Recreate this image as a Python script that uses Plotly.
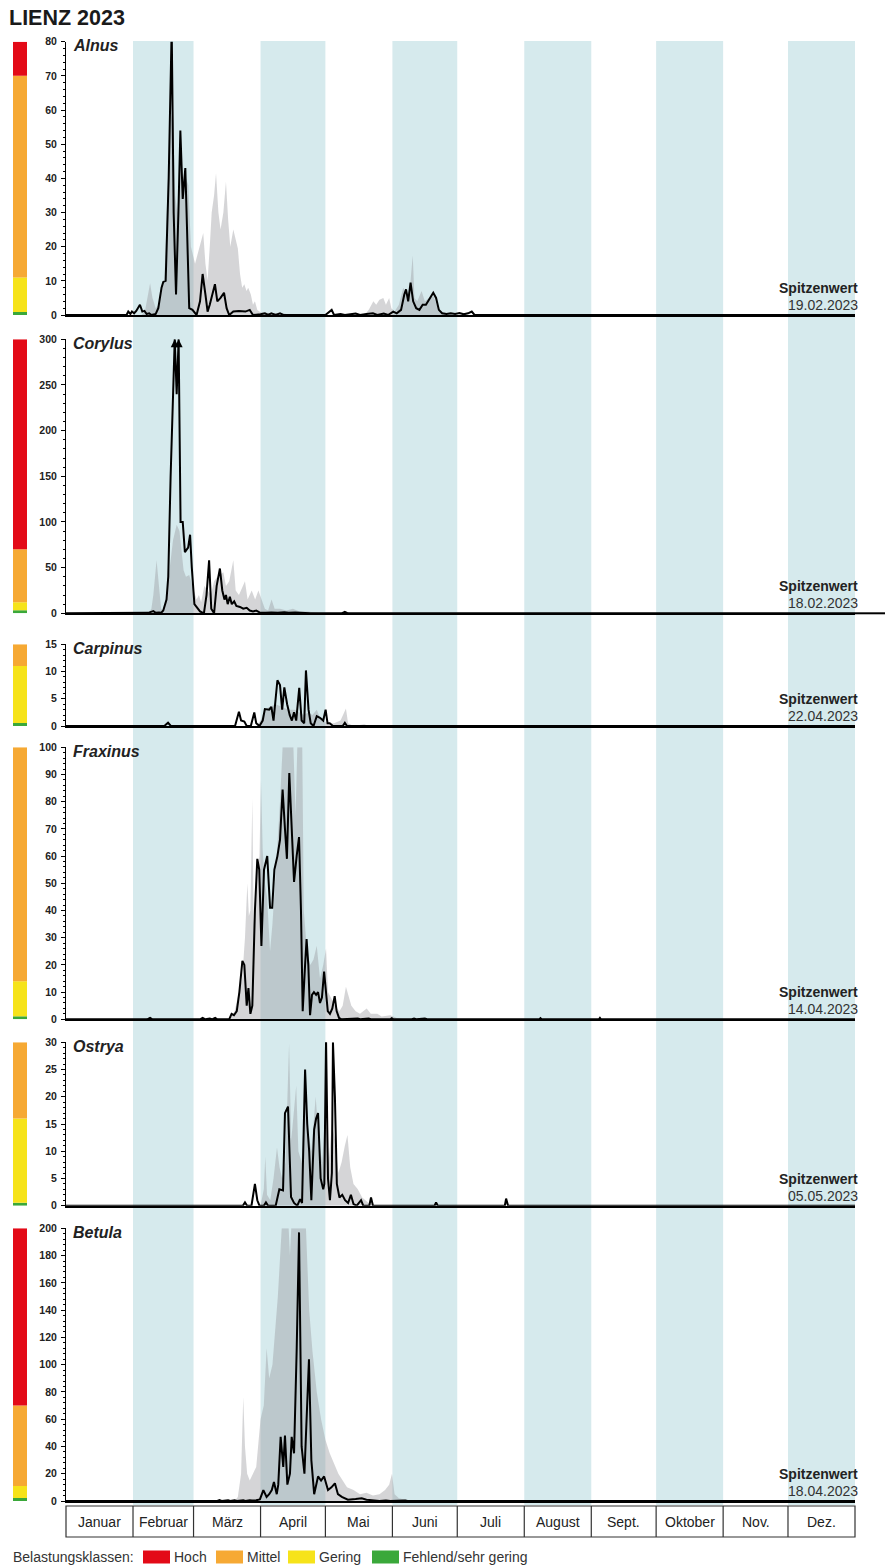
import plotly.graph_objects as go

# ---------------------------------------------------------------- data
title = "LIENZ 2023"
species = ["Alnus", "Corylus", "Carpinus", "Fraxinus", "Ostrya", "Betula"]
y_max = [80, 300, 15, 100, 30, 200]
y_dtick = [10, 50, 5, 10, 5, 20]
y_minor = [2, 10, 1, 2, 1, 4]
peak_dates = ["19.02.2023", "18.02.2023", "22.04.2023", "14.04.2023", "05.05.2023", "18.04.2023"]
# peaks beyond the axis marked with an arrow
cut_arrows = [False, True, False, False, False, False]
# class limits per species: (upper of "Gering", upper of "Mittel", upper of "Hoch" or None)
class_limits = [(11, 70, 80), (12, 70, 300), (11, 15, None), (14, 100, None), (16, 30, None), (11, 70, 200)]

month_labels = ["Januar", "Februar", "März", "April", "Mai", "Juni", "Juli",
                "August", "Sept.", "Oktober", "Nov.", "Dez."]
month_days = [31, 28, 31, 30, 31, 30, 31, 31, 30, 31, 30, 31]

legend_labels = ["Hoch", "Mittel", "Gering", "Fehlend/sehr gering"]

# (day of year, 0 = 1 January ; value)  2023 daily pollen counts (black line)
alnus_2023 = [(0, 0), (28, 0), (28.8, 1), (29.8, 0.3), (30.5, 1), (31.5, 0.5), (32.5, 1.2), (34.2, 3), (35.3, 1),
              (36.3, 1.2), (37.3, 0.3), (38.5, 0.5), (39.5, 0), (41.5, 0.3), (42.7, 2), (44.2, 8), (45, 9.7),
              (46.1, 10), (47.5, 40), (48.9, 84), (49.8, 30), (50.9, 6), (52, 30), (52.9, 54), (54, 34),
              (55.2, 43), (56, 25), (57, 2), (58.5, 1.5), (60.4, 0), (62, 4), (63.2, 12), (64.5, 6), (65.5, 1),
              (66.5, 3), (68.9, 9), (70, 4), (71.5, 5), (73.1, 6.5), (74.3, 2), (75.5, 0), (77.4, 1), (80, 1.2),
              (83, 1), (85, 1.5), (86.5, 0), (90, 0.2), (92, 0.5), (93.5, 0), (95, 0.5), (97, 0), (99, 0.5),
              (100.5, 0), (120, 0), (122.9, 1.5), (124, 0), (127, 0.3), (129, 0), (134, 0.4), (136, 0),
              (139, 0.3), (142, 0.5), (144, 0), (147, 0.4), (149, 0), (151.4, 1), (153, 0.5), (155, 1.5),
              (156.5, 6), (157.3, 7.5), (158.3, 4), (159.4, 9.5), (160.6, 4), (162, 2), (163.5, 1.5), (165, 3),
              (166.5, 3), (168.5, 5), (169.9, 6.5), (171.2, 5), (172.5, 1.5), (174, 0.5), (176, 0.3), (178, 0.5),
              (180, 0.3), (182, 0.6), (184, 0.2), (186, 0.5), (187.7, 1), (189, 0), (365, 0)]
alnus_mean = [(0, 0), (35, 0), (36.5, 1), (38, 6), (38.9, 9.3), (40, 5), (41.5, 2), (43, 3), (44.5, 8), (45.5, 10),
              (47, 40), (48, 55), (49.5, 60), (50.5, 35), (51.5, 30), (53, 45), (54, 35), (55.5, 40), (56.6, 38),
              (57.8, 20), (59.7, 15), (61, 18), (62, 20), (63.5, 24), (64.5, 15), (65.5, 10), (66.5, 20),
              (67.4, 30), (68.5, 35), (69.4, 41.5), (70.5, 30), (71.5, 25), (72.8, 30), (74, 39), (75, 28),
              (76, 20), (77.4, 25), (78.5, 22), (79.5, 19.5), (80.5, 12), (81.5, 8), (82.5, 9), (83.5, 7),
              (84.3, 8), (85.5, 6), (86.5, 3), (87.4, 4), (88.5, 1.5), (90, 0.8), (95, 0.5), (100, 0.6), (104, 0),
              (138, 0), (140, 1.5), (142.2, 4), (143.5, 3), (145, 4.5), (146.8, 5), (148, 3), (149.5, 5),
              (150.5, 2), (152, 1), (154, 3), (156, 8), (157.5, 6), (159, 7), (160.4, 17.5), (161.2, 5),
              (162.5, 4), (164.5, 7), (166, 4), (168, 5), (170, 5.5), (171.5, 3), (173, 1), (176, 0.5), (180, 0),
              (365, 0)]

corylus_2023 = [(0, 0), (36, 0), (38, 0.5), (40.4, 2.5), (41.5, 0.5), (43, 1), (44, 0.5), (45, 3), (46.5, 15),
                (47.3, 40), (48.4, 150), (50.3, 300), (51.2, 240), (52.1, 300), (53, 100), (54, 100), (55, 67),
                (56.5, 72), (57.4, 86), (58.2, 50), (59.4, 10), (62, 2), (63.8, 0), (65, 20), (66.2, 58),
                (67.2, 5), (68.5, 0), (69.7, 30), (71.2, 49), (72.3, 25), (73.3, 15), (74, 20), (74.8, 10),
                (75.8, 18), (76.7, 10), (77.8, 13), (78.8, 8), (80.5, 7), (82, 5), (83.6, 6), (85, 3), (86.5, 2),
                (88, 3), (89.5, 1), (92.5, 0.5), (95, 1), (98, 0.5), (101, 1.2), (103, 0.5), (106, 1), (110, 0.3),
                (113, 0), (127.5, 0), (129, 1.5), (130.5, 0), (365, 0)]
corylus_mean = [(0, 0), (38, 0), (39.5, 5), (40.4, 20), (41.9, 58), (43, 30), (44, 5), (45, 3), (46, 10), (48, 50),
                (49.5, 80), (51.2, 97), (52.5, 90), (54.4, 47), (55.5, 40), (57, 42), (58.5, 30), (60.4, 15),
                (61.5, 20), (62.5, 12), (64, 30), (65.5, 25), (67, 20), (68.5, 35), (70, 40), (72.8, 45),
                (74, 30), (75.5, 35), (77.4, 58), (78.5, 25), (80, 20), (82.8, 35), (84, 15), (85.9, 25),
                (87.5, 15), (89, 25), (90.5, 15), (92, 5), (93.5, 3), (95.1, 15), (96.5, 5), (99, 5), (102, 3),
                (105, 5), (108, 2), (112, 2), (115, 1), (118, 0), (365, 0)]

carpinus_2023 = [(0, 0), (45.5, 0), (47.2, 0.6), (48.5, 0), (78.2, 0), (80, 2.6), (81, 1), (82.5, 0.8), (83.6, 0),
                 (85.5, 0), (87.1, 2.5), (88, 0.5), (89.5, 0), (91, 1), (92, 3.1), (94, 3), (95, 3.5), (96, 1),
                 (97.8, 8.4), (99, 7.5), (100, 3), (101, 7.1), (102.3, 4), (103.5, 2), (104.5, 1), (105.5, 2.5),
                 (106.5, 1), (107.9, 7), (109, 1), (110.2, 0.5), (111, 10.2), (112.2, 3), (113.2, 0.5),
                 (114.5, 0), (116, 1.8), (117.5, 1.5), (119, 1), (120.1, 3), (121, 0.5), (122, 0.5), (123.5, 0),
                 (128, 0), (129, 0.6), (130, 0), (365, 0)]
carpinus_mean = [(0, 0), (88, 0), (90, 1), (92, 3), (94, 3.5), (97, 4), (100, 3.5), (103, 3), (106, 3),
                 (108, 2.5), (110, 2), (112, 2.5), (114, 2), (116, 3), (117.5, 1.5), (119, 1), (121, 0.5),
                 (124, 0.5), (127, 1), (129.5, 3.2), (130.5, 0.5), (133, 0), (138, 0.3), (140, 0), (365, 0)]

fraxinus_2023 = [(0, 0), (37.5, 0), (38.9, 0.5), (40, 0), (62, 0), (63.2, 0.5), (64.5, 0), (66.5, 0.3), (67.5, 0),
                 (69, 0.5), (70, 0), (75.5, 0), (76.6, 2), (77.7, 1.5), (79, 3), (80.2, 10), (81.6, 21.5),
                 (82.5, 20), (83.6, 5), (84.4, 11.5), (85.3, 2), (86.2, 5), (87.4, 40), (88.5, 59), (89.4, 55),
                 (90.4, 27), (91.6, 55), (93.1, 60), (94.4, 41), (95.4, 41), (96.4, 55), (97.8, 60), (99, 66),
                 (100.2, 84.5), (101.3, 70), (102.2, 59), (103.3, 90.5), (104.4, 70), (105.5, 50.5), (106.7, 60),
                 (107.8, 67), (108.7, 40), (109.5, 3), (110.6, 20), (111.3, 29.5), (112.1, 20), (112.9, 1.5),
                 (113.8, 9), (114.7, 10), (115.7, 9), (116.6, 10), (117.5, 6), (118.4, 8), (119.4, 17.5),
                 (120.3, 10), (121.1, 3), (122.1, 2), (123.2, 4), (124.3, 8.5), (125.2, 3), (126.3, 0.5),
                 (127.5, 0), (135, 0.3), (136, 0), (140, 0.3), (141, 0), (150, 0), (150.7, 0.4), (151.5, 0),
                 (160, 0), (161, 0.3), (162, 0), (166, 0.3), (167, 0), (219, 0), (219.5, 0.4), (220, 0),
                 (246.5, 0), (247, 0.5), (247.5, 0), (365, 0)]
fraxinus_mean = [(0, 0), (75, 0), (76.6, 1), (78, 3), (80, 10), (81.5, 15), (82.8, 30), (83.9, 50), (84.6, 38),
                 (85.3, 40), (86.2, 81), (86.8, 35), (87.5, 45), (88.5, 55), (89.5, 60), (90.2, 88), (91, 62),
                 (92, 50), (93, 45), (94.4, 25), (95.5, 35), (96.5, 50), (97.5, 60), (99, 80), (100.2, 100),
                 (105.2, 100), (106.2, 75), (107, 100), (109.3, 100), (110, 40), (111.5, 25), (113, 20),
                 (114.5, 22), (116, 27), (117.5, 15), (119, 20), (120.3, 26), (121.2, 10), (122.5, 8),
                 (124.5, 5), (126.5, 3), (128, 5), (129.5, 12), (130.8, 8), (132, 5), (134, 3), (136, 2),
                 (139.1, 4), (141, 2), (144, 2), (146, 1), (150, 1.5), (153, 0.5), (156, 0), (365, 0)]

ostrya_2023 = [(0, 0), (81.8, 0), (82.8, 0.6), (83.8, 0), (85.8, 0), (87.4, 4), (88.5, 1), (89.5, 0), (91.5, 0),
               (92.5, 0.6), (93.5, 0), (97, 0), (98.7, 3), (100.4, 2.8), (101.3, 17), (102.7, 18.2), (104.1, 1.6),
               (105.5, 0.5), (107, 0), (108.3, 1.2), (109.2, 0.5), (110.6, 25), (111.6, 15), (112.5, 10),
               (113.5, 1), (114.8, 14), (115.7, 16), (116.6, 17), (117.8, 5), (119, 3), (119.5, 4),
               (120.3, 30.5), (121.2, 5), (122.1, 1), (123, 6), (123.5, 30), (124.4, 20), (125.3, 4),
               (126.5, 1.5), (127.8, 2), (129.1, 1), (130.5, 0.5), (131.8, 2), (133, 0.3), (134.5, 0),
               (136.5, 1), (137.5, 0), (140.3, 0), (141.1, 1.5), (142, 0), (170.5, 0), (171.2, 0.6), (172, 0),
               (203, 0), (203.6, 1.3), (204.5, 0), (365, 0)]
ostrya_mean = [(0, 0), (90, 0), (91.5, 3), (92.2, 9), (93, 2), (94.5, 1), (96, 5), (97.6, 10.7), (98.8, 7),
               (100, 5), (101.5, 8), (103.2, 29.8), (104.2, 12), (105.5, 18), (106.5, 22), (107.5, 10), (109, 8),
               (110.5, 20), (112, 14), (113.5, 10), (115.5, 20), (117, 12), (118.5, 8), (120, 18), (121.5, 8),
               (123, 15), (124.5, 12), (126, 6), (127.5, 8), (129, 11), (130.2, 13), (131.5, 7), (133, 4),
               (135, 3), (137, 1.5), (140, 0.5), (143, 0), (365, 0)]

betula_2023 = [(0, 0), (30, 0), (31, 0.5), (32, 0), (39, 0), (40, 0.5), (41, 0), (70, 0), (71, 0.6), (72, 0),
               (75, 0.5), (76, 0), (78, 0.6), (79, 0), (82, 0.5), (83, 0), (85, 0.5), (86, 0.3), (88, 0.5),
               (89.7, 1.2), (91.3, 8), (92.8, 3), (94, 5), (95.2, 8), (96.2, 14), (97.5, 5), (98.2, 12),
               (99.3, 47), (100.5, 25), (101.3, 48), (102.4, 12), (103.6, 20), (104.4, 47), (105.5, 35),
               (106.7, 110), (107.8, 197), (109, 40), (110.3, 20), (112.4, 104), (113.5, 30), (114.8, 5),
               (116.6, 18), (118, 15), (119.4, 18), (121.2, 8), (122.8, 10), (124.4, 13), (125.8, 5),
               (127.6, 3), (130.4, 1), (134, 1.5), (136.8, 2), (139, 1), (142, 0.5), (145, 0), (148, 0.3),
               (150, 0), (157, 0.3), (158, 0), (365, 0)]
betula_mean = [(0, 0), (78, 0), (79.5, 3), (81, 20), (82, 76), (82.8, 40), (83.8, 20), (85, 15), (86.5, 20),
               (88, 25), (90, 60), (91.5, 70), (92.8, 112), (94, 90), (95.5, 100), (96.5, 120), (98, 150),
               (99.8, 200), (103, 200), (103.6, 180), (104.2, 200), (111, 200), (112.5, 140), (114, 110),
               (116, 80), (118, 60), (120, 45), (122, 35), (124, 28), (126, 20), (128, 15), (130, 10), (133, 8),
               (136, 5), (139, 6), (142, 4), (145, 5), (147.6, 8), (149.5, 12), (150.8, 20), (152, 5), (154, 2),
               (157, 1), (160, 0.5), (163, 0), (365, 0)]

series_2023 = [alnus_2023, corylus_2023, carpinus_2023, fraxinus_2023, ostrya_2023, betula_2023]
series_mean = [alnus_mean, corylus_mean, carpinus_mean, fraxinus_mean, ostrya_mean, betula_mean]

# ---------------------------------------------------------------- layout / style
W, H = 885, 1565
L, R = 66, 30
PW = W - L - R
FONT = "Arial, Liberation Sans, sans-serif"
RED, ORANGE, YELLOW, GREEN = "#e30a17", "#f6a934", "#f6e31a", "#3aa83a"
STRIPE = "#d6eaed"
GRAY = "rgba(150,150,155,0.40)"

panel_px = [(41.7, 315), (339.3, 613.3), (644.3, 726), (747.3, 1019.3), (1042.3, 1205.7), (1228.3, 1501)]


def pxx(px):
    return (px - L) / PW


def pyy(py):
    return 1 - py / H


month_starts = [0]
for d in month_days:
    month_starts.append(month_starts[-1] + d)
year_len = month_starts[-1]

fig = go.Figure()
layout = {}
shapes = []
annotations = []

for i, sp in enumerate(species):
    n = "" if i == 0 else str(i + 1)
    xa, ya = "x" + n, "y" + n
    top, bot = panel_px[i]
    layout["xaxis" + n] = dict(domain=[0, 1], range=[0, year_len], anchor=ya, showline=True, linecolor="black",
                               linewidth=2, showticklabels=False, ticks="", showgrid=False, zeroline=False,
                               fixedrange=True)
    layout["yaxis" + n] = dict(domain=[pyy(bot), pyy(top)], range=[0, y_max[i]], anchor=xa, showline=True,
                               linecolor="black", linewidth=1, ticks="outside", ticklen=4, tickwidth=1,
                               tickcolor="black", tick0=0, dtick=y_dtick[i], showgrid=False, zeroline=False,
                               tickfont=dict(family=FONT, size=10.5, color="#222", weight="bold"),
                               ticklabelstandoff=2,
                               minor=dict(dtick=y_minor[i], ticklen=2.5, ticks="outside", tickcolor="black",
                                          tickwidth=1, showgrid=False),
                               fixedrange=True)

    md = [p[0] for p in series_mean[i]]
    mv = [p[1] for p in series_mean[i]]
    fig.add_trace(go.Scatter(x=md, y=mv, mode="lines", line=dict(width=0, color="rgba(0,0,0,0)"),
                             fill="tozeroy", fillcolor=GRAY, xaxis=xa, yaxis=ya, hoverinfo="skip",
                             showlegend=False))
    cd = [p[0] for p in series_2023[i]]
    cv = [p[1] for p in series_2023[i]]
    fig.add_trace(go.Scatter(x=cd, y=cv, mode="lines", line=dict(width=2, color="black"),
                             xaxis=xa, yaxis=ya, showlegend=False))
    # arrows where the value is cut at the axis maximum
    if cut_arrows[i]:
        ad = [d for d, v in series_2023[i] if v >= y_max[i]]
        fig.add_trace(go.Scatter(x=ad, y=[y_max[i]] * len(ad), mode="markers",
                                 marker=dict(symbol="arrow-up", size=8, color="black"),
                                 cliponaxis=False, xaxis=xa, yaxis=ya, showlegend=False))

    # class bar at the left
    gering, mittel, hoch = class_limits[i]
    unit_px = (bot - top) / y_max[i]
    green_top = 3.0 / unit_px
    bx0, bx1 = pxx(13), pxx(27)
    segs = [(0, green_top, GREEN), (green_top, gering, YELLOW), (gering, mittel, ORANGE)]
    if hoch is not None:
        segs.append((mittel, hoch, RED))
    for y0, y1, col in segs:
        shapes.append(dict(type="rect", xref="paper", yref=ya, x0=bx0, x1=bx1, y0=y0, y1=y1,
                           fillcolor=col, line=dict(width=0), layer="above"))

    # species label
    annotations.append(dict(text=f"<b><i>{sp}</i></b>", xref="paper", yref=ya + " domain", x=pxx(71), y=1,
                            xanchor="left", yanchor="middle", yshift=-4, showarrow=False,
                            font=dict(family=FONT, size=16, color="#222")))
    # Spitzenwert
    annotations.append(dict(text="<b>Spitzenwert</b>", xref="paper", yref=ya + " domain", x=pxx(860), y=0,
                            xanchor="right", yanchor="middle", yshift=27, showarrow=False,
                            font=dict(family=FONT, size=14, color="#222")))
    annotations.append(dict(text=peak_dates[i], xref="paper", yref=ya + " domain", x=pxx(860), y=0,
                            xanchor="right", yanchor="middle", yshift=10, showarrow=False,
                            font=dict(family=FONT, size=14, color="#333")))

# Corylus baseline runs to the right edge
shapes.append(dict(type="line", xref="paper", yref="y2 domain", x0=1, x1=pxx(885), y0=0, y1=0,
                   line=dict(color="black", width=2)))

# month stripes
for m in range(1, 12, 2):
    shapes.append(dict(type="rect", xref="x", yref="paper", x0=month_starts[m], x1=month_starts[m + 1],
                       y0=pyy(1505), y1=pyy(41), fillcolor=STRIPE, line=dict(width=0), layer="below"))

# month table
tb_top, tb_bot = 1506, 1537
shapes.append(dict(type="rect", xref="paper", yref="paper", x0=0, x1=1, y0=pyy(tb_bot), y1=pyy(tb_top),
                   line=dict(color="#333", width=1.2), fillcolor="rgba(0,0,0,0)"))
for m in range(1, 12):
    shapes.append(dict(type="line", xref="x", yref="paper", x0=month_starts[m], x1=month_starts[m],
                       y0=pyy(tb_bot), y1=pyy(tb_top), line=dict(color="#333", width=1.2)))
for m, lab in enumerate(month_labels):
    annotations.append(dict(text=lab, xref="x", yref="paper", x=(month_starts[m] + month_starts[m + 1]) / 2,
                            y=pyy((tb_top + tb_bot) / 2), xanchor="center", yanchor="middle", showarrow=False,
                            font=dict(family=FONT, size=14, color="#222")))

# title
annotations.append(dict(text=f"<b>{title}</b>", xref="paper", yref="paper", x=pxx(7), y=pyy(18),
                        xanchor="left", yanchor="middle", showarrow=False,
                        font=dict(family=FONT, size=21.5, color="#1a1a1a")))

# legend of classes
ly = 1557
annotations.append(dict(text="Belastungsklassen:", xref="paper", yref="paper", x=pxx(11), y=pyy(ly),
                        xanchor="left", yanchor="middle", showarrow=False,
                        font=dict(family=FONT, size=14, color="#333")))
leg_cols = [RED, ORANGE, YELLOW, GREEN]
leg_box_x = [143, 216, 288, 372]
for lab, col, bx in zip(legend_labels, leg_cols, leg_box_x):
    shapes.append(dict(type="rect", xref="paper", yref="paper", x0=pxx(bx), x1=pxx(bx + 27),
                       y0=pyy(ly + 6.5), y1=pyy(ly - 6.5), fillcolor=col, line=dict(width=0)))
    annotations.append(dict(text=lab, xref="paper", yref="paper", x=pxx(bx + 29), y=pyy(ly),
                            xanchor="left", yanchor="middle", showarrow=False,
                            font=dict(family=FONT, size=14, color="#333")))

layout.update(dict(width=W, height=H, margin=dict(l=L, r=R, t=0, b=0, autoexpand=False),
                   paper_bgcolor="white", plot_bgcolor="rgba(0,0,0,0)", showlegend=False,
                   shapes=shapes, annotations=annotations, font=dict(family=FONT)))
fig.update_layout(**layout)
fig.write_html("out.html")
